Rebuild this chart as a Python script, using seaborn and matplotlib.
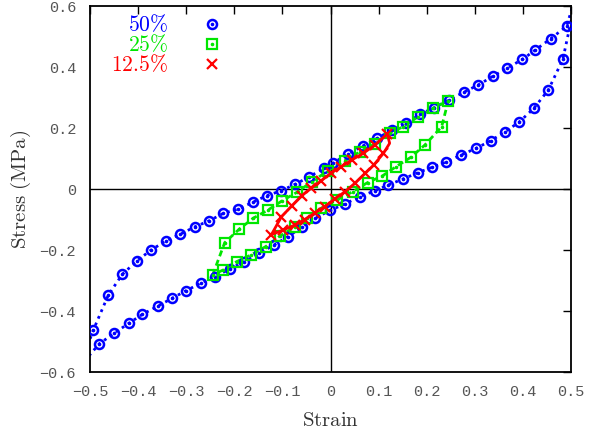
import numpy as np
import pandas as pd
import matplotlib
matplotlib.use("Agg")
import matplotlib.pyplot as plt
import seaborn as sns

# 50% amplitude loop (blue circles), upper branch left->right, lower branch right->left
s50_up_strain = [-0.493, -0.462, -0.433, -0.402, -0.373, -0.342, -0.312, -0.282, -0.252, -0.223,
                 -0.193, -0.162, -0.133, -0.103, -0.073, -0.044, -0.014, 0.006, 0.037, 0.067,
                 0.097, 0.127, 0.157, 0.186, 0.216, 0.246, 0.278, 0.307, 0.338, 0.367,
                 0.399, 0.426, 0.458, 0.491]
s50_up_stress = [-0.462, -0.348, -0.280, -0.235, -0.200, -0.170, -0.148, -0.124, -0.104, -0.080,
                 -0.066, -0.044, -0.022, -0.006, 0.016, 0.040, 0.068, 0.086, 0.115, 0.141,
                 0.166, 0.193, 0.215, 0.245, 0.267, 0.292, 0.318, 0.341, 0.370, 0.396,
                 0.425, 0.456, 0.493, 0.534]
s50_dn_strain = [0.483, 0.453, 0.423, 0.392, 0.363, 0.333, 0.302, 0.271, 0.241, 0.211,
                 0.181, 0.151, 0.120, 0.092, 0.061, 0.030, -0.001, -0.032, -0.060, -0.088,
                 -0.118, -0.148, -0.179, -0.209, -0.240, -0.270, -0.301, -0.329, -0.359, -0.391,
                 -0.419, -0.450, -0.481]
s50_dn_stress = [0.425, 0.325, 0.265, 0.219, 0.188, 0.158, 0.133, 0.111, 0.089, 0.071,
                 0.053, 0.033, 0.013, -0.006, -0.025, -0.049, -0.070, -0.096, -0.125, -0.156,
                 -0.184, -0.211, -0.238, -0.261, -0.288, -0.309, -0.334, -0.358, -0.384, -0.411,
                 -0.440, -0.473, -0.508]
# loop ends that run outside the frame
s50_tip_strain = [-0.52, 0.515]
s50_tip_stress = [-0.58, 0.66]

# 25% amplitude loop (green squares)
s25_up_strain = [-0.245, -0.220, -0.190, -0.161, -0.130, -0.100, -0.070, -0.039, -0.005, 0.030,
                 0.061, 0.092, 0.123, 0.151, 0.182, 0.214, 0.245]
s25_up_stress = [-0.282, -0.176, -0.132, -0.096, -0.069, -0.038, -0.011, 0.024, 0.060, 0.093,
                 0.122, 0.148, 0.184, 0.204, 0.237, 0.265, 0.290]
s25_dn_strain = [0.231, 0.196, 0.167, 0.136, 0.108, 0.077, 0.046, 0.013, -0.019, -0.048,
                 -0.074, -0.105, -0.135, -0.165, -0.195, -0.224]
s25_dn_stress = [0.204, 0.144, 0.104, 0.073, 0.043, 0.021, -0.009, -0.036, -0.063, -0.095,
                 -0.124, -0.154, -0.189, -0.216, -0.238, -0.266]

# 12.5% amplitude loop (red crosses)
s12_up_strain = [-0.123, -0.102, -0.081, -0.060, -0.040, -0.020, 0.000, 0.022, 0.045, 0.068,
                 0.092, 0.118]
s12_up_stress = [-0.150, -0.091, -0.056, -0.022, 0.003, 0.026, 0.051, 0.073, 0.096, 0.117,
                 0.144, 0.180]
s12_dn_strain = [0.110, 0.090, 0.072, 0.051, 0.030, 0.009, -0.012, -0.032, -0.053, -0.074, -0.098]
s12_dn_stress = [0.117, 0.079, 0.051, 0.019, -0.009, -0.032, -0.058, -0.078, -0.100, -0.118, -0.134]
s12_curl_strain = [0.123]
s12_curl_stress = [0.150]

labels = ["50%", "25%", "12.5%"]
colors = ["#0000ff", "#00e600", "#ff0000"]

xticks = [-0.5, -0.4, -0.3, -0.2, -0.1, 0, 0.1, 0.2, 0.3, 0.4, 0.5]
xtick_labels = ["\u22120.5", "\u22120.4", "\u22120.3", "\u22120.2", "\u22120.1", "0",
                "0.1", "0.2", "0.3", "0.4", "0.5"]
yticks = [-0.6, -0.4, -0.2, 0, 0.2, 0.4, 0.6]
ytick_labels = ["\u22120.6", "\u22120.4", "\u22120.2", "0", "0.2", "0.4", "0.6"]

sns.set_style("white")
plt.rcParams["mathtext.fontset"] = "cm"

fig = plt.figure(figsize=(5.91, 4.37), dpi=100)
ax = fig.add_axes([90 / 591, 1 - 372 / 437, 481 / 591, 366 / 437])

ax.axhline(0, color="black", lw=1, zorder=1)
ax.axvline(0, color="black", lw=1, zorder=1)

# connecting lines
line50_x = [s50_tip_strain[0]] + s50_up_strain + [s50_tip_strain[1]] + s50_dn_strain + [s50_tip_strain[0]]
line50_y = [s50_tip_stress[0]] + s50_up_stress + [s50_tip_stress[1]] + s50_dn_stress + [s50_tip_stress[0]]
line25_x = s25_up_strain + s25_dn_strain + s25_up_strain[:1]
line25_y = s25_up_stress + s25_dn_stress + s25_up_stress[:1]
line12_x = s12_up_strain + s12_curl_strain + s12_dn_strain + s12_up_strain[:1]
line12_y = s12_up_stress + s12_curl_stress + s12_dn_stress + s12_up_stress[:1]

sns.lineplot(x=line50_x, y=line50_y, sort=False, estimator=None, ax=ax, color=colors[0],
             lw=2, linestyle=(0, (1, 1.6)), zorder=2)
sns.lineplot(x=line25_x, y=line25_y, sort=False, estimator=None, ax=ax, color=colors[1],
             lw=2, linestyle=(0, (2.2, 1.4)), zorder=3)

# markers (open symbol plus a small centre dot)
h50 = ax.plot(s50_up_strain + s50_dn_strain, s50_up_stress + s50_dn_stress, ls="none",
              marker="o", ms=6.5, mfc="none", mec=colors[0], mew=1.8, zorder=4)[0]
d50 = ax.plot(s50_up_strain + s50_dn_strain, s50_up_stress + s50_dn_stress, ls="none",
              marker="o", ms=1.6, mfc=colors[0], mec=colors[0], zorder=4)[0]
h25 = ax.plot(s25_up_strain + s25_dn_strain, s25_up_stress + s25_dn_stress, ls="none",
              marker="s", ms=6.5, mfc="none", mec=colors[1], mew=1.6, zorder=5)[0]
d25 = ax.plot(s25_up_strain + s25_dn_strain, s25_up_stress + s25_dn_stress, ls="none",
              marker="o", ms=1.6, mfc=colors[1], mec=colors[1], zorder=5)[0]

sns.lineplot(x=line12_x, y=line12_y, sort=False, estimator=None, ax=ax, color=colors[2],
             lw=2, zorder=6)
h12 = ax.plot(s12_up_strain + s12_dn_strain, s12_up_stress + s12_dn_stress, ls="none",
              marker="x", ms=6.5, mec=colors[2], mew=1.6, zorder=7)[0]

ax.set_xlim(-0.5, 0.5)
ax.set_ylim(-0.6, 0.6)
ax.set_xticks(xticks)
ax.set_xticklabels(xtick_labels, family="Liberation Mono", fontsize=11, color="#555555")
ax.set_yticks(yticks)
ax.set_yticklabels(ytick_labels, family="Liberation Mono", fontsize=11, color="#555555")
ax.tick_params(direction="in", length=6, width=1, top=True, right=True, color="black")
ax.tick_params(axis="x", pad=9)
ax.tick_params(axis="y", pad=10)
for sp in ax.spines.values():
    sp.set_color("black")
    sp.set_linewidth(1.3)

ax.set_xlabel(r"$\mathrm{Strain}$", fontsize=15, color="#333333", labelpad=8)
ax.set_ylabel(r"$\mathrm{Stress\ (MPa)}$", fontsize=15, color="#333333", labelpad=5)

leg = ax.legend(handles=[(h50, d50), (h25, d25), h12],
                labels=[r"$50\%$", r"$25\%$", r"$12.5\%$"],
                loc="upper right", bbox_to_anchor=(223 / 591, 1 - 13.5 / 437),
                bbox_transform=fig.transFigure, frameon=False, markerfirst=False,
                handlelength=1.0, handletextpad=1.55, labelspacing=-0.08, borderpad=0,
                borderaxespad=0, fontsize=15.5, labelcolor=colors)

fig.savefig("out.png", dpi=100)
